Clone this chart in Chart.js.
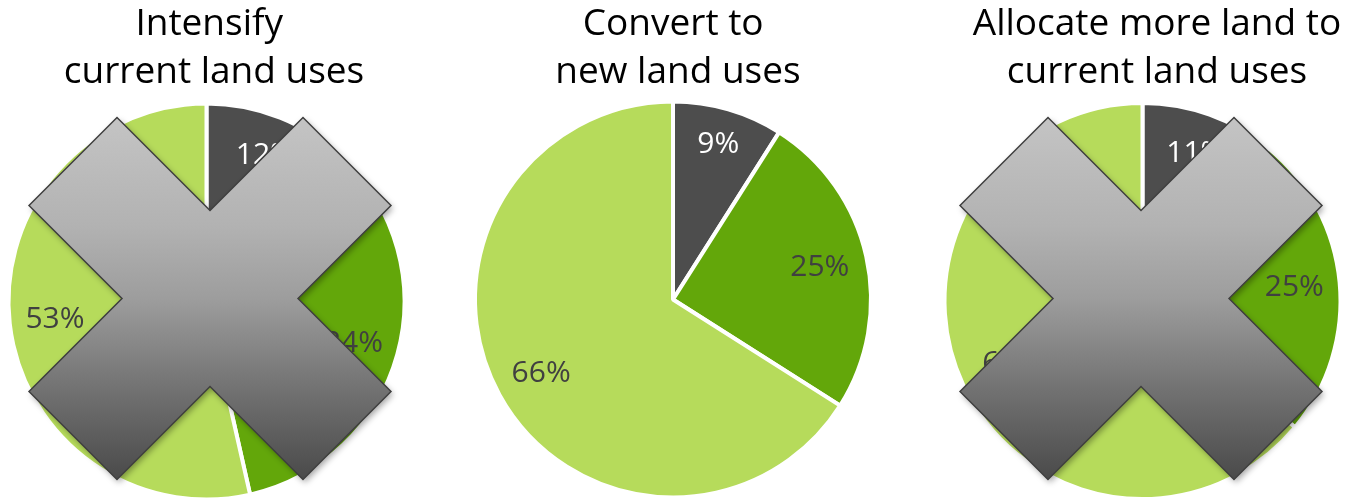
<!DOCTYPE html>
<html>
<head>
<meta charset="utf-8">
<script src="https://cdn.jsdelivr.net/npm/chart.js@4/dist/chart.umd.min.js"></script>
<style>
  html, body { margin: 0; padding: 0; background: #ffffff; overflow: hidden; }
  body { width: 1350px; height: 498px; position: relative; }
  .title {
    position: absolute; top: -3px; width: 460px; margin-left: -230px;
    font-family: "Open Sans", "Noto Sans", sans-serif; font-size: 37px;
    line-height: 48px; color: #000000; text-align: center; white-space: pre;
    z-index: 2;
  }
  canvas { position: absolute; z-index: 1; }
</style>
</head>
<body>
<div class="title" id="t0"></div>
<div class="title" id="t1"></div>
<div class="title" id="t2"></div>
<canvas id="c0" width="439" height="439"></canvas>
<canvas id="c1" width="440" height="439"></canvas>
<canvas id="c2" width="439" height="440"></canvas>
<script>
// Pie titles (one per scenario)
const titles = [
  "Intensify \ncurrent land uses",
  "Convert to \nnew land uses",
  "Allocate more land to\ncurrent land uses"
];

// Shares per category, in percent
const categories = ["Category A", "Category B", "Category C"];
const intensifyValues = [12, 34, 53];
const convertValues = [9, 25, 66];
const allocateValues = [11, 25, 64];

const seriesList = [intensifyValues, convertValues, allocateValues];

// Styling
const sliceColors = ["#4d4d4d", "#63a70a", "#b6db5b"];
const labelColors = ["#ffffff", "#404040", "#404040"];

// Layout of each pie: canvas position, label radius fractions, crossed-out overlay
const layouts = [
  { id: "c0", left: -13, top: 82, titleX: 214, labelR: [0.8, 0.77, 0.77], cross: { dx: 3.5, dy: -3 } },
  { id: "c1", left: 453, top: 80, titleX: 678, labelR: [0.82, 0.76, 0.76], cross: null },
  { id: "c2", left: 923, top: 81, titleX: 1157, labelR: [0.795, 0.77, 0.73], cross: { dx: -1.5, dy: -2.5 } }
];

// Percentage labels placed along each slice's bisector
const sliceLabels = {
  id: "sliceLabels",
  afterDatasetsDraw(chart, args, opts) {
    const ctx = chart.ctx;
    const meta = chart.getDatasetMeta(0);
    const values = chart.data.datasets[0].data;
    ctx.save();
    ctx.font = "30px 'Open Sans', 'Noto Sans', sans-serif";
    ctx.textAlign = "center";
    ctx.textBaseline = "middle";
    meta.data.forEach((arc, i) => {
      const p = arc.getProps(["x", "y", "startAngle", "endAngle", "outerRadius"], true);
      const mid = (p.startAngle + p.endAngle) / 2;
      const r = p.outerRadius * opts.radii[i];
      ctx.fillStyle = labelColors[i];
      ctx.fillText(values[i] + "%", p.x + Math.cos(mid) * r, p.y + Math.sin(mid) * r + 1);
    });
    ctx.restore();
  }
};

// Grey gradient "X" drawn over a pie
const crossOut = {
  id: "crossOut",
  afterDraw(chart, args, opts) {
    if (!opts || !opts.show) return;
    const ctx = chart.ctx;
    const arc = chart.getDatasetMeta(0).data[0];
    const cx = arc.x + opts.dx, cy = arc.y + opts.dy;
    const n = 88, p = 93, q = 181;
    const pts = [
      [0, -n], [p, -q], [q, -p], [n, 0], [q, p], [p, q],
      [0, n], [-p, q], [-q, p], [-n, 0], [-q, -p], [-p, -q]
    ];
    ctx.save();
    ctx.beginPath();
    pts.forEach(([x, y], i) => {
      if (i === 0) ctx.moveTo(cx + x, cy + y); else ctx.lineTo(cx + x, cy + y);
    });
    ctx.closePath();
    const g = ctx.createLinearGradient(0, cy - q, 0, cy + q);
    g.addColorStop(0, "#c4c4c4");
    g.addColorStop(0.3, "#b2b2b2");
    g.addColorStop(0.5, "#9d9d9d");
    g.addColorStop(0.75, "#727272");
    g.addColorStop(1, "#4a4a4a");
    ctx.shadowColor = "rgba(0,0,0,0.35)";
    ctx.shadowBlur = 6;
    ctx.shadowOffsetX = 2;
    ctx.shadowOffsetY = 3;
    ctx.fillStyle = g;
    ctx.fill();
    ctx.shadowColor = "rgba(0,0,0,0)";
    ctx.lineWidth = 1.5;
    ctx.lineJoin = "miter";
    ctx.strokeStyle = "#3f3f3f";
    ctx.stroke();
    ctx.restore();
  }
};

layouts.forEach((lay, k) => {
  const t = document.getElementById("t" + k);
  t.textContent = titles[k];
  t.style.left = lay.titleX + "px";

  const cv = document.getElementById(lay.id);
  cv.style.left = lay.left + "px";
  cv.style.top = lay.top + "px";

  new Chart(cv, {
    type: "pie",
    data: {
      labels: categories,
      datasets: [{
        data: seriesList[k],
        backgroundColor: sliceColors,
        borderColor: "#ffffff",
        borderWidth: 4,
        hoverOffset: 0
      }]
    },
    options: {
      responsive: false,
      animation: false,
      devicePixelRatio: 1,
      radius: 198,
      layout: { padding: 0 },
      events: [],
      plugins: {
        legend: { display: false },
        tooltip: { enabled: false },
        title: { display: false },
        sliceLabels: { radii: lay.labelR },
        crossOut: lay.cross ? Object.assign({ show: true }, lay.cross) : { show: false }
      }
    },
    plugins: [sliceLabels, crossOut]
  });
});
</script>
</body>
</html>
